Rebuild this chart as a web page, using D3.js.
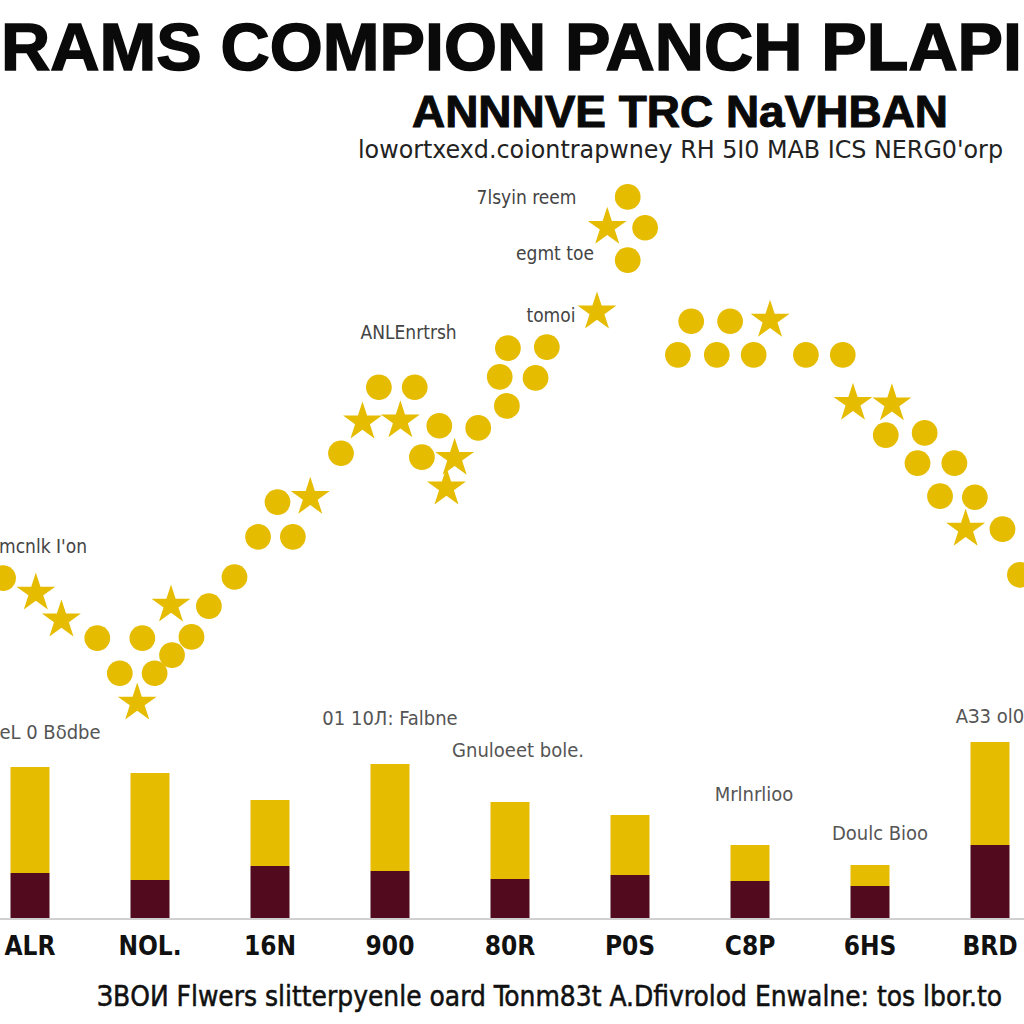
<!DOCTYPE html>
<html><head><meta charset="utf-8">
<script src="https://cdn.jsdelivr.net/npm/d3@7"></script>
<style>body{margin:0;background:#fff}svg{display:block}</style>
</head><body>
<svg id="c" width="1024" height="1024"></svg>
<script>
// ---- data ----
const categories = ["ALR","NOL.","16N","900","80R","P0S","C8P","6HS","BRD"];
const lowerValues = [45,38,52,47,39,43,37,32,73];
const upperValues = [106,107,66,107,77,60,36,21,103];
const barNotes = [
  {cat:"ALR", text:"eL 0 Bδdbe", v:179, dx:20},
  {cat:"16N", text:"01 10Л: Falbne", v:193, dx:120},
  {cat:"80R", text:"Gnuloeet bole.", v:161, dx:8},
  {cat:"C8P", text:"Mrlnrlioo", v:117, dx:4},
  {cat:"6HS", text:"Doulc Bioo", v:78, dx:10},
  {cat:"BRD", text:"AЗ3 ol0", v:195, dx:0}
];
const dotX = [0.3,3.5,6.0,9.5,13.9,11.7,15.1,13.4,16.8,18.7,16.7,20.4,22.9,25.2,28.6,27.1,30.3,33.3,35.4,39.1,37.0,40.5,42.9,46.7,41.2,44.4,43.6,49.6,53.4,48.8,52.3,49.5,58.3,61.3,59.3,63.0,61.3,67.5,71.3,75.2,66.2,70.0,73.6,78.7,82.3,83.3,87.1,86.5,90.3,89.6,93.2,91.8,95.2,94.3,97.9,99.6];
const dotY = [25.8,23.1,18.2,14.9,14.9,8.5,8.5,3.1,11.8,15.1,20.9,20.7,26.0,33.3,33.3,39.6,40.5,48.5,54.2,54.4,60.5,60.5,53.5,53.1,47.8,47.6,42.2,67.6,67.8,62.4,62.2,57.1,74.2,95.1,89.6,89.5,83.6,72.5,72.5,72.7,66.4,66.4,66.4,66.4,66.4,57.6,57.5,51.8,52.2,46.7,46.7,40.7,40.5,34.7,34.7,26.4];
const dotShape = ["c","s","s","c","c","c","c","s","c","c",
                  "s","c","c","c","c","c","s","c","s","s",
                  "c","c","c","c","c","s","s","c","c","c",
                  "c","c","s","c","s","c","c","c","c","s",
                  "c","c","c","c","c","s","s","c","c","c",
                  "c","c","c","s","c","c"];
const dotNotes = [
  {x:56.3, y:95.1, text:"7lsyin reem"},
  {x:58.0, y:84.9, text:"egmt toe"},
  {x:56.2, y:73.6, text:"tomoi"},
  {x:44.6, y:70.5, text:"ANLEnrtrsh"},
  {x:8.5, y:31.6, text:"mcnlk  I'on"}
];
const titleText = "RAMS COMPION PANCH PLAPI";
const subtitleText = "ANNNVE TRC NaVHBAN";
const subsubText = "lowortxexd.coiontrapwney  RH 5I0  MAB ICS  NERG0'orp";
const footerText = "ЗВОИ Flwers slitterpyenle oard Tonm83t  A.Dfivrolod  Enwalne: tos lbor.to";

// ---- styles ----
const YEL = "#E5BC00", MAR = "#520B1E";
const svg = d3.select("#c");
const narrow = "'Liberation Sans Narrow','Arial Narrow','DejaVu Sans Condensed',sans-serif";

// titles
svg.append("text").attr("x",1).attr("y",70).attr("textLength",1021).attr("lengthAdjust","spacingAndGlyphs")
  .attr("font-family","'Liberation Sans','DejaVu Sans',sans-serif").attr("font-weight",900).attr("font-size",66)
  .attr("stroke","#0a0a0a").attr("stroke-width",1.5)
  .attr("fill","#0a0a0a").text(titleText);
svg.append("text").attr("x",412).attr("y",127).attr("textLength",536).attr("lengthAdjust","spacingAndGlyphs")
  .attr("font-family","'Liberation Sans','DejaVu Sans',sans-serif").attr("font-weight",900).attr("font-size",44)
  .attr("stroke","#0a0a0a").attr("stroke-width",1)
  .attr("fill","#0a0a0a").text(subtitleText);
svg.append("text").attr("x",358).attr("y",158).attr("textLength",645).attr("lengthAdjust","spacingAndGlyphs")
  .attr("font-family",narrow).attr("font-size",24)
  .attr("fill","#222").text(subsubText);

// ---- scatter ----
const x = d3.scaleLinear().domain([0,100]).range([0,1024]);
const y = d3.scaleLinear().domain([0,100]).range([720,170]);
const dots = dotX.map((v,i)=>({x:v,y:dotY[i],s:dotShape[i]}));
svg.append("g").selectAll("path").data(dots).join("path")
  .attr("transform",d=>`translate(${x(d.x)},${y(d.y)})`)
  .attr("d",d=>d3.symbol().type(d.s==="s"?d3.symbolStar:d3.symbolCircle).size(d.s==="s"?470:520)())
  .attr("fill",YEL);
svg.append("g").selectAll("text").data(dotNotes).join("text")
  .attr("x",d=>x(d.x)).attr("y",d=>y(d.y)).attr("dy","0.35em").attr("text-anchor","end")
  .attr("font-family",narrow).attr("font-size",19).attr("fill","#444").text(d=>d.text);

// ---- bars ----
const xb = d3.scaleBand().domain(categories).range([-30,1050]).paddingInner(0.675).paddingOuter(0.3375);
const yb = d3.scaleLinear().domain([0,200]).range([918,718]);
const rows = categories.map((c,i)=>({c,lo:lowerValues[i],hi:upperValues[i]}));
const stack = d3.stack().keys(["lo","hi"])(rows);
const colors = [MAR, YEL];
svg.append("line").attr("x1",0).attr("x2",1024).attr("y1",yb(0)+1).attr("y2",yb(0)+1).attr("stroke","#cfcfcf").attr("stroke-width",2);
svg.append("g").selectAll("g").data(stack).join("g").attr("fill",(d,i)=>colors[i])
  .selectAll("rect").data(d=>d).join("rect")
  .attr("x",d=>xb(d.data.c)).attr("width",xb.bandwidth())
  .attr("y",d=>yb(d[1])).attr("height",d=>yb(d[0])-yb(d[1]));
svg.append("g").selectAll("text").data(barNotes).join("text")
  .attr("x",d=>xb(d.cat)+xb.bandwidth()/2+d.dx)
  .attr("y",d=>yb(d.v)).attr("text-anchor","middle")
  .attr("font-family",narrow).attr("font-size",20).attr("fill","#555").text(d=>d.text);

// x axis labels
const ax = d3.axisBottom(xb).tickSize(0).tickPadding(0);
const axg = svg.append("g").attr("transform","translate(0,937)").call(ax);
axg.select(".domain").remove();
axg.selectAll("text").attr("font-family",narrow).attr("font-weight","bold").attr("font-size",26).attr("fill","#111");

// footer
svg.append("g").attr("transform","translate(97,1006) scale(1,1.25)")
  .append("text").attr("x",0).attr("y",0).attr("textLength",905).attr("lengthAdjust","spacingAndGlyphs")
  .attr("font-family",narrow).attr("font-size",23).attr("fill","#111").attr("stroke","#111").attr("stroke-width",0.4).text(footerText);
</script>
</body></html>
